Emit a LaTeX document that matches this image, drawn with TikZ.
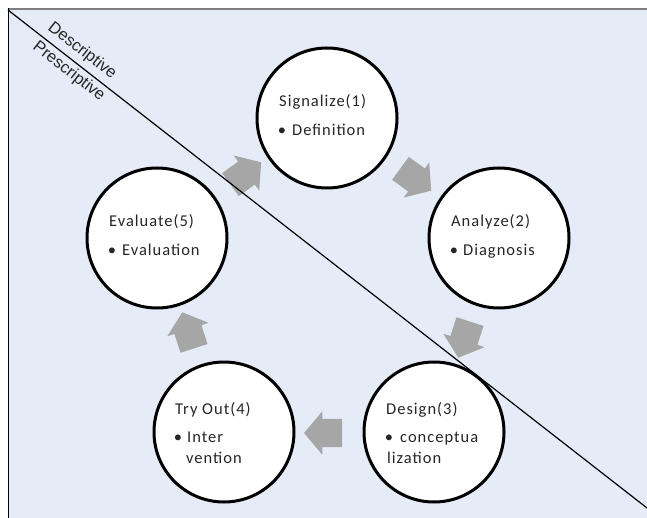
\documentclass[tikz,border=0pt]{standalone}
\usepackage{fontspec}
\setmainfont{Carlito}[LetterSpace=6]
\newfontfamily\sidefont{Liberation Sans}
\usetikzlibrary{shapes.arrows,calc}
\definecolor{panel}{HTML}{E6ECF7}
\definecolor{flow}{HTML}{A6A6A6}
\definecolor{ink}{HTML}{262626}
\definecolor{rule}{HTML}{7F7F7F}
\begin{document}
\begin{tikzpicture}[x=1pt,y=-1pt,
  stage/.style={circle,draw=black,line width=3pt,fill=white,minimum size=140pt,inner sep=0pt},
  flowarrow/.style={single arrow,fill=flow,draw=none,minimum height=38pt,
    inner xsep=0pt,inner ysep=14pt,
    single arrow head extend=7.5pt,single arrow tip angle=100},
  txt/.style={anchor=base west,inner sep=0pt,text=ink,font=\fontsize{16.5}{20}\selectfont},
  dot/.style={anchor=base,inner sep=0pt,text=ink,font=\fontsize{16.5}{20}\selectfont},
  side/.style={inner sep=0pt,text=ink,font=\sidefont\fontsize{16.5}{19}\selectfont},
  divider/.style={line width=1.2pt,black}]
\useasboundingbox (0,0) rectangle (647,518);
% panel and its frame
\fill[panel] (8,8) rectangle (647,518);
\draw[rule,line width=1.5pt] (8,9) -- (647,9);
\draw[black,line width=1pt] (8,8) -- (8,518);

% stages of the cycle
\node[stage] (s1) at (327,118) {};
\node[stage] (s2) at (499,238) {};
\node[stage] (s3) at (434,432) {};
\node[stage] (s4) at (224,432) {};
\node[stage] (s5) at (157,238) {};

% block arrows between the stages
\node[flowarrow,rotate=-36] (a12) at (411,176) {};
\node[flowarrow,rotate=-108] (a23) at (466,334) {};
\node[flowarrow,rotate=180] (a34) at (329,433) {};
\node[flowarrow,rotate=108] (a45) at (190,336) {};
\node[flowarrow,rotate=36] (a51) at (241,177) {};

% stage texts
\node[txt] (t1) at ($(s1)+(-48,-11)$) {Signalize(1)};
\node[dot] at ($(s1)+(-45,18)$) {•};
\node[txt] at ($(s1)+(-35,18)$) {Definition};

\node[txt] (t2) at ($(s2)+(-48,-11)$) {Analyze(2)};
\node[dot] at ($(s2)+(-45,18)$) {•};
\node[txt] at ($(s2)+(-36,18)$) {Diagnosis};

\node[txt] (t3) at ($(s3)+(-48,-18)$) {Design(3)};
\node[dot] at ($(s3)+(-45,10)$) {•};
\node[txt] at ($(s3)+(-34,10)$) {conceptua};
\node[txt] at ($(s3)+(-47,31)$) {lization};

\node[txt] (t4) at ($(s4)+(-49,-18)$) {Try Out(4)};
\node[dot] at ($(s4)+(-46,10)$) {•};
\node[txt] at ($(s4)+(-37,10)$) {Inter};
\node[txt] at ($(s4)+(-38,31)$) {vention};

\node[txt] (t5) at ($(s5)+(-48,-11)$) {Evaluate(5)};
\node[dot] at ($(s5)+(-45,18)$) {•};
\node[txt] at ($(s5)+(-35,18)$) {Evaluation};

% diagonal divider with its two labels
\coordinate (tl) at (8,10);
\coordinate (br) at (647,508);
\draw[divider] (tl) -- (br)
  node[side,pos=0.103,sloped,above=5pt] (desc) {Descriptive}
  node[side,pos=0.106,sloped,below=3pt] (presc) {Prescriptive};
\end{tikzpicture}
\end{document}
